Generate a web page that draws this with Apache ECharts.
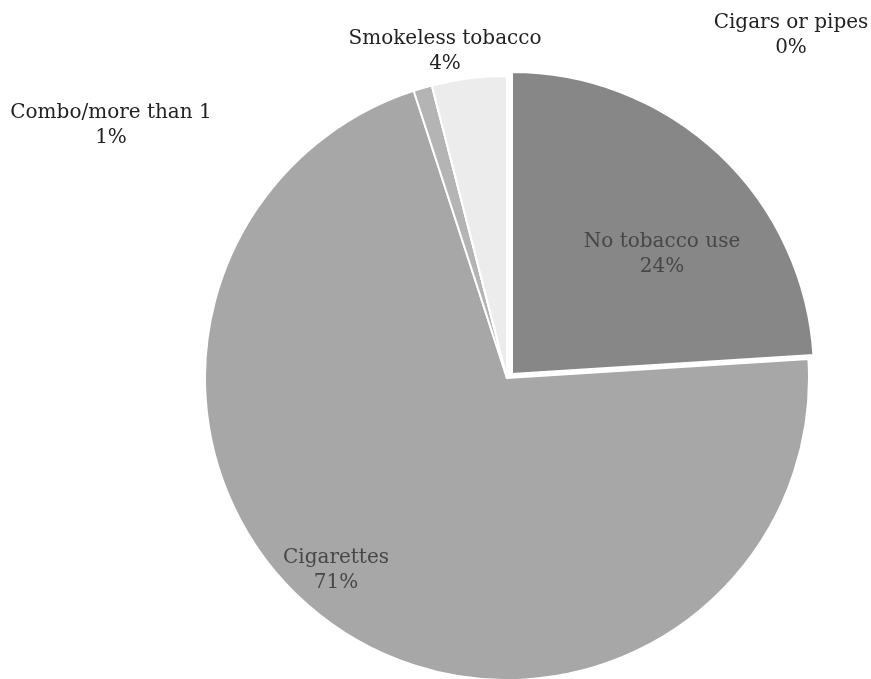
<!DOCTYPE html>
<html>
<head>
<meta charset="utf-8">
<script src="https://cdn.jsdelivr.net/npm/echarts@6/dist/echarts.min.js"></script>
<style>
  html, body { margin: 0; padding: 0; background: #fff; }
  #chart { width: 871px; height: 679px; }
</style>
</head>
<body>
<div id="chart"></div>
<script>
// Tobacco use categories and their shares (percent)
const categories = ['No tobacco use', 'Cigarettes', 'Combo/more than 1', 'Cigars or pipes', 'Smokeless tobacco'];
const shares = [24, 71, 1, 0, 4];

// Slice fills and label styling
const sliceColors = ['#878787', '#a7a7a7', '#b4b4b4', '#cfcfcf', '#ececec'];
const labelColors = ['#474747', '#474747', '#222', '#222', '#222'];
// Where each label block is centred on the canvas
const labelAnchors = [[662, 254], [336, 570], [111, 125], [791, 35], [445, 51]];
// The first slice is pulled out of the pie
const explodedIndex = 0;
const pieCenter = [507, 378];
const explodeShift = [5, -4];
const pieRadius = 302;

const chart = echarts.init(document.getElementById('chart'), null, { renderer: 'canvas' });

function pieSeries(isExploded) {
  const c = isExploded
    ? [pieCenter[0] + explodeShift[0], pieCenter[1] + explodeShift[1]]
    : pieCenter;
  return {
    type: 'pie',
    center: c,
    radius: [0, pieRadius],
    startAngle: 90,
    clockwise: true,
    silent: true,
    avoidLabelOverlap: false,
    emphasis: { disabled: true },
    label: {
      show: true,
      formatter: '{b}\n{c}%',
      fontFamily: 'DejaVu Serif',
      fontSize: 20,
      lineHeight: 25,
      align: 'center'
    },
    labelLine: { show: false },
    labelLayout: function (p) {
      const a = labelAnchors[p.dataIndex];
      return { x: a[0], y: a[1], align: 'center', verticalAlign: 'middle', hideOverlap: false };
    },
    data: categories.map(function (name, i) {
      const visible = (i === explodedIndex) === isExploded;
      return {
        name: name,
        value: shares[i],
        itemStyle: visible
          ? { color: sliceColors[i], borderColor: '#ffffff', borderWidth: 2 }
          : { color: 'rgba(0,0,0,0)', borderWidth: 0 },
        label: { show: visible, color: labelColors[i] }
      };
    })
  };
}

chart.setOption({
  animation: false,
  backgroundColor: '#ffffff',
  series: [pieSeries(false), pieSeries(true)]
});
</script>
</body>
</html>
